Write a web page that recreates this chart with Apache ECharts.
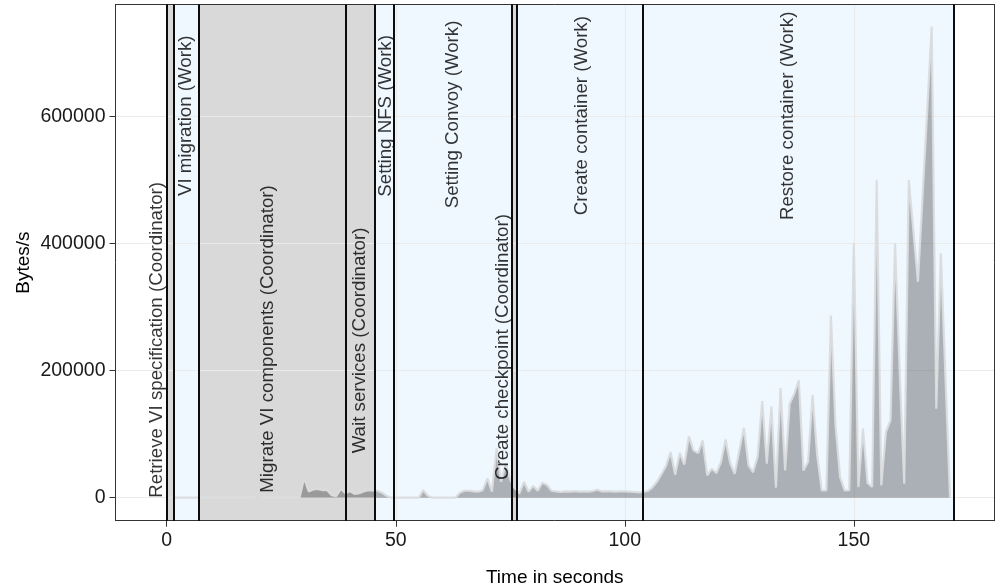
<!DOCTYPE html>
<html>
<head>
<meta charset="utf-8">
<script src="https://cdn.jsdelivr.net/npm/echarts@6/dist/echarts.min.js"></script>
<style>
  html, body { margin: 0; padding: 0; background: #fff; }
  #chart { width: 995px; height: 587px; }
</style>
</head>
<body>
<div id="chart"></div>
<script>
// sample times (s) and transfer rate (bytes/s)
const times = [
  0, 1, 2, 3, 4, 5, 6, 7, 8, 9,
  10, 11, 12, 13, 14, 15, 16, 17, 18, 19,
  20, 21, 22, 23, 24, 25, 26, 27, 28, 29,
  30, 31, 32, 33, 34, 35, 36, 37, 38, 39,
  40, 41, 42, 43, 44, 45, 46, 47, 48, 49,
  50, 51, 52, 53, 54, 55, 56, 57, 58, 59,
  60, 61, 62, 63, 64, 65, 66, 67, 68, 69,
  70, 71, 72, 73, 74, 75, 76, 77, 78, 79,
  80, 81, 82, 83, 84, 85, 86, 87, 88, 89,
  90, 91, 92, 93, 94, 95, 96, 97, 98, 99,
  100, 101, 102, 103, 104, 105, 106, 107, 108, 109,
  110, 111, 112, 113, 114, 115, 116, 117, 118, 119,
  120, 121, 122, 123, 124, 125, 126, 127, 128, 129,
  130, 131, 132, 133, 134, 135, 136, 137, 138, 139,
  140, 141, 142, 143, 144, 145, 146, 147, 148, 149,
  150, 151, 152, 153, 154, 155, 156, 157, 158, 159,
  160, 161, 162, 163, 164, 165, 166, 167, 168, 169,
  170, 171
];
const rates = [
  0, 0, 0, 0, 0, 0, 0, 0, 0, 0,
  0, 0, 0, 0, 0, 0, 0, 0, 0, 0,
  2000, 0, 0, 0, 0, 0, 0, 0, 0, 0,
  31000, 10000, 13000, 14000, 12000, 12000, 4000, 2500, 14000, 7000,
  10500, 6000, 7000, 10000, 12000, 11500, 11000, 8000, 3000, 0,
  0, 0, 0, 0, 0, 0, 12000, 3000, 0, 0,
  0, 0, 0, 0, 7900, 11000, 11000, 10000, 9500, 12000,
  30500, 9500, 77700, 25000, 54000, 27800, 14700, 6800, 25000, 9500,
  18400, 11000, 23600, 20000, 11000, 10000, 9000, 10000, 9500, 10500,
  9500, 10000, 9500, 10500, 12500, 10000, 10500, 10000, 9500, 10000,
  10000, 9500, 9000, 8400, 9000, 10500, 16000, 25000, 37000, 50000,
  72000, 36200, 70400, 52000, 97000, 74500, 70400, 90300, 35200, 45700,
  38900, 56200, 91900, 54600, 37800, 74000, 110000, 51000, 40000, 65100,
  152000, 53500, 143800, 15800, 172700, 43000, 148000, 163800, 184800, 43000,
  56200, 162200, 66700, 11500, 11500, 287000, 114000, 32500, 11500, 12000,
  401000, 16800, 108700, 23100, 16800, 500000, 19400, 103400, 121800, 400600,
  200000, 22000, 500000, 420000, 340000, 474000, 608000, 742000, 140000, 385000,
  190000, 0
];

// migration phases
const phaseNames = [
  "Retrieve VI specification (Coordinator)",
  "VI migration (Work)",
  "Migrate VI components (Coordinator)",
  "Wait services (Coordinator)",
  "Setting NFS (Work)",
  "Setting Convoy (Work)",
  "Create checkpoint (Coordinator)",
  "Create container (Work)",
  "Restore container (Work)"
];
const phaseStart = [0, 1.6, 7.0, 39.0, 45.5, 49.6, 75.4, 76.5, 104.0];
const phaseEnd = [1.6, 7.0, 39.0, 45.5, 49.6, 75.4, 76.5, 104.0, 171.8];
const phaseRole = ["Coordinator", "Work", "Coordinator", "Coordinator", "Work", "Work", "Coordinator", "Work", "Work"];
// where each rotated label sits (x centre, y where the text starts)
const labelX = [-2.2, 4.1, 22.1, 42.2, 47.9, 62.4, 73.3, 90.7, 135.7];
const labelY = [0, 475000, 7900, 69900, 474000, 455800, 27900, 445000, 437300];

const xTicks = [0, 50, 100, 150];
const yTicks = [0, 200000, 400000, 600000];

const roleColor = { Coordinator: "#d9d9d9", Work: "#f0f8ff" };
const fontFamily = "'Liberation Sans', Arial, Helvetica, sans-serif";

const chart = echarts.init(document.getElementById('chart'), null, { renderer: 'canvas' });

const boundaries = [];
phaseStart.forEach((s) => { if (boundaries.indexOf(s) < 0) boundaries.push(s); });
phaseEnd.forEach((e) => { if (boundaries.indexOf(e) < 0) boundaries.push(e); });

const xMin = -11.18, xMax = 180.6;
const yMin = -36200, yMax = 776700;

const option = {
    animation: false,
    backgroundColor: '#fff',
    grid: { left: 115.5, right: 1, top: 4.5, bottom: 66.3, containLabel: false, outerBoundsMode: 'none' },
    xAxis: [{
        type: 'value', min: xMin, max: xMax, z: 1,
        name: 'Time in seconds', nameLocation: 'middle', nameGap: 48, nameMoveOverlap: false,
        nameTextStyle: { fontSize: 19, color: '#000', fontFamily: fontFamily },
        axisLine: { show: true, onZero: false, lineStyle: { color: '#333', width: 1 } },
        axisTick: { show: true, length: 6, customValues: xTicks, lineStyle: { color: '#333' } },
        axisLabel: { customValues: xTicks, margin: 10, fontSize: 19.5, color: '#1a1a1a', fontFamily: fontFamily },
        splitLine: { show: false }
    }, {
        type: 'value', min: xMin, max: xMax, position: 'top', z: 1,
        axisLine: { show: true, onZero: false, lineStyle: { color: '#333', width: 1 } },
        axisTick: { show: false }, axisLabel: { show: false }, splitLine: { show: false }
    }],
    yAxis: [{
        type: 'value', min: yMin, max: yMax, z: 1,
        name: 'Bytes/s', nameLocation: 'middle', nameGap: 82, nameMoveOverlap: false,
        nameTextStyle: { fontSize: 19, color: '#000', fontFamily: fontFamily },
        axisLine: { show: true, onZero: false, lineStyle: { color: '#333', width: 1 } },
        axisTick: { show: true, length: 6, customValues: yTicks, lineStyle: { color: '#333' } },
        axisLabel: { customValues: yTicks, margin: 10, fontSize: 19.5, color: '#1a1a1a', fontFamily: fontFamily,
            formatter: (v) => String(v) },
        splitLine: { show: false }
    }, {
        type: 'value', min: yMin, max: yMax, position: 'right', z: 1,
        axisLine: { show: true, onZero: false, lineStyle: { color: '#333', width: 1 } },
        axisTick: { show: false }, axisLabel: { show: false }, splitLine: { show: false }
    }],
    series: [
        {
            // phase background rects
            type: 'custom', z: 0, silent: true, clip: true,
            data: phaseStart.map((s, i) => [s, phaseEnd[i], i]),
            renderItem: (params, api) => {
                const x0 = api.coord([api.value(0), 0])[0];
                const x1 = api.coord([api.value(1), 0])[0];
                const cs = params.coordSys;
                return {
                    type: 'rect',
                    shape: { x: x0, y: cs.y, width: x1 - x0, height: cs.height },
                    style: { fill: roleColor[phaseRole[api.value(2)]] }
                };
            }
        },
        {
            // grid lines over the rects
            type: 'line', data: [], silent: true,
            markLine: {
                silent: true, z: 1, symbol: ['none', 'none'], label: { show: false },
                lineStyle: { type: 'solid', color: '#ebebeb', width: 1.1 },
                data: yTicks.map((v) => ({ yAxis: v })).concat(xTicks.map((v) => ({ xAxis: v })))
            }
        },
        {
            name: 'Bytes/s', type: 'line', z: 2,
            showSymbol: false, symbol: 'none',
            data: times.map((t, i) => [t, rates[i]]),
            lineStyle: { color: 'rgba(218,220,222,0.95)', width: 2.2 },
            areaStyle: { color: 'rgba(0,0,0,0.29)', opacity: 1 }
        },
        {
            // phase boundaries
            type: 'line', data: [], silent: true,
            markLine: {
                silent: true, z: 5, symbol: ['none', 'none'], label: { show: false },
                lineStyle: { type: 'solid', color: '#000', width: 1.9 },
                data: boundaries.map((b) => ({ xAxis: b }))
            }
        },
        {
            type: 'scatter', z: 6, silent: true, symbolSize: 0,
            data: labelX.map((x, i) => [x, labelY[i]]),
            label: {
                show: true, position: 'inside', rotate: 90,
                align: 'left', verticalAlign: 'middle',
                fontSize: 18.7, color: '#000', fontFamily: fontFamily,
                textBorderWidth: 0, textBorderColor: 'transparent',
                formatter: (p) => phaseNames[p.dataIndex]
            }
        }
    ]
};

chart.setOption(option);
</script>
</body>
</html>
